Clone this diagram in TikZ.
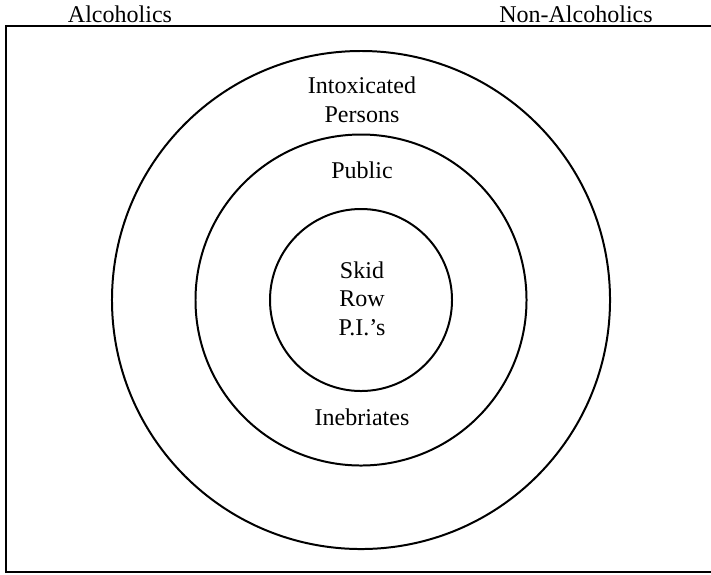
\documentclass[tikz,border=0pt]{standalone}
\usepackage{fontspec}
\setmainfont{Liberation Serif}
\usetikzlibrary{positioning}

\begin{document}
\begin{tikzpicture}[
  x=0.03cm, y=-0.03cm,
  font=\fontsize{20.5}{24.3}\selectfont,
  ring/.style={draw, circle, line width=1.7pt, inner sep=0pt},
  tag/.style={anchor=base, align=center, inner sep=0pt}
]
\useasboundingbox (0,0) rectangle (711,574);

% ===== Frame =====
\draw[line width=1.2pt] (711,26) -- (6,26) -- (6,572) -- (711,572);

\node[tag] (alc) at (120,22) {Alcoholics};
\node[tag] (nonalc) at (576,22) {Non-Alcoholics};

% ===== Rings =====
\node[ring, minimum size=14.94cm] (outer) at (361,300) {};
\node[ring, minimum size=9.93cm] (middle) at (361,300) {};
\node[ring, minimum size=5.46cm] (inner) at (361,300) {};

% ===== Labels =====
\node[tag] (intox) at (362,122) {Intoxicated\\Persons};
\node[tag] (public) at (362,178) {Public};
\node[tag] (skid) at (362,335) {Skid\\Row\\P.I.'s};
\node[tag] (inebr) at (362,425) {Inebriates};

\end{tikzpicture}
\end{document}
